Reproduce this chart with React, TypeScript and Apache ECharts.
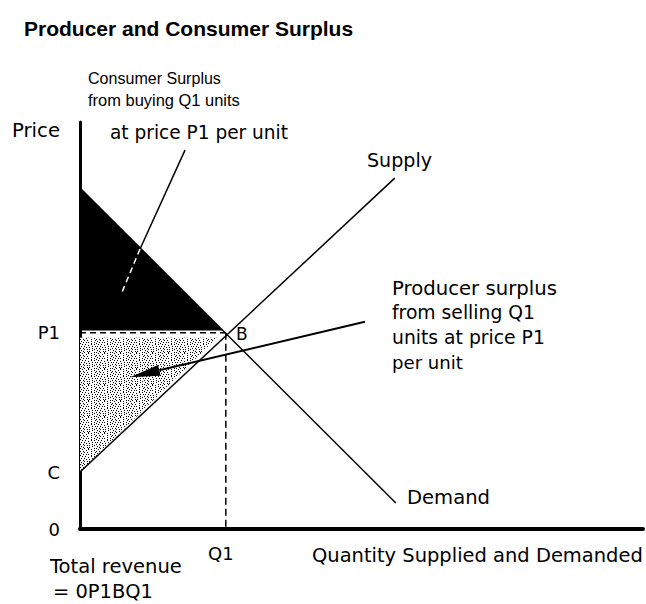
import { useEffect, useRef } from "react";
import * as echarts from "echarts";

// ---- Data (chart units: 0..100 on both axes) ----
const demandPoints: number[][] = [[0, 83.8], [56.1, 6.4]];
const supplyPoints: number[][] = [[0, 14.0], [55.9, 86.2]];
const Q1 = 25.9;
const P1 = 48.2;
const consumerSurplusArea: number[][] = [[0, 83.8], [0, P1 + 0.6], [Q1 - 0.6, P1 + 0.6]];
const producerSurplusArea: number[][] = [[0, P1 - 1.2], [Q1 - 1.6, P1 - 1.2], [0, 14.0]];
const priceDashed: number[][] = [[0, P1], [Q1, P1]];
const quantityDashed: number[][] = [[Q1, P1], [Q1, 0]];
const yTickValues = [P1, 14.0, 0];
const yTickLabels = ["P1", "C", "0"];
const xTickValues = [Q1];
const xTickLabels = ["Q1"];
const consumerPointerOuter: number[][] = [[18.65, 93.1], [10.66, 68.8]];
const consumerPointerInner: number[][] = [[10.66, 68.8], [7.46, 58.2]];
const producerPointer: number[][] = [[50.6, 50.9], [8.9, 37.3]];

const FONT = "'DejaVu Sans', 'Liberation Sans', sans-serif";
const NARROW_FONT = "'Liberation Sans', Arial, sans-serif";

const stippleRows = [
  "#...#...#.....#.",
  "..#.....#..#....",
  "......#.......#.",
  "#..#.......#....",
  "....#..#.......#",
  ".#.........#....",
  "...#..#.#.....#.",
  "#..........#....",
  "..#..#.....#..#.",
  "........#.......",
  ".#..#.......#..#",
  "......#..#......",
  "#..#........#...",
  "....#..#.#....#.",
  ".#..........#...",
  "...#...#.#......",
];

function makeStipple(): any {
  const n = stippleRows.length;
  const c = document.createElement("canvas");
  c.width = n;
  c.height = n;
  const ctx = c.getContext("2d")!;
  ctx.fillStyle = "#ffffff";
  ctx.fillRect(0, 0, n, n);
  ctx.fillStyle = "#000000";
  stippleRows.forEach((row, y) => {
    for (let x = 0; x < row.length; x++) {
      if (row[x] === "#") ctx.fillRect(x, y, 1, 1);
    }
  });
  return { image: c, repeat: "repeat" };
}

let measureCtx: CanvasRenderingContext2D | null = null;
function fitSize(text: string, family: string, weight: string, targetWidth: number, fallback: number): number {
  try {
    if (!measureCtx) measureCtx = document.createElement("canvas").getContext("2d");
    if (!measureCtx) return fallback;
    measureCtx.font = `${weight} 100px ${family}`;
    const w = measureCtx.measureText(text).width;
    if (!w) return fallback;
    return (100 * targetWidth) / w;
  } catch (e) {
    return fallback;
  }
}

export default function App() {
  const ref = useRef<HTMLDivElement>(null);
  useEffect(() => {
    if (!ref.current) return;
    const chart = echarts.init(ref.current, undefined, { renderer: "svg" });
    let stipple: any = "#b0b0b0";
    try {
      stipple = makeStipple();
    } catch (e) {
      stipple = "#b0b0b0";
    }
    const polygonSeries = (pts: number[][], fill: any) => ({
      type: "custom",
      coordinateSystem: "cartesian2d",
      silent: true,
      clip: false,
      data: [pts[0]],
      renderItem: (_p: any, api: any) => ({
        type: "polygon",
        shape: { points: pts.map((p) => api.coord(p)) },
        style: { fill, stroke: "none" },
      }),
    });
    const lineSeries = (pts: number[][], color: string, width: number, type: any = "solid") => ({
      type: "line",
      data: pts,
      symbol: "none",
      silent: true,
      lineStyle: { color, width, type },
      z: 5,
    });
    const arrowSeries = {
      type: "custom",
      coordinateSystem: "cartesian2d",
      silent: true,
      clip: false,
      z: 6,
      data: [producerPointer[0]],
      renderItem: (_p: any, api: any) => {
        const a = api.coord(producerPointer[0]);
        const b = api.coord(producerPointer[1]);
        const dx = b[0] - a[0];
        const dy = b[1] - a[1];
        const len = Math.sqrt(dx * dx + dy * dy);
        const ux = dx / len;
        const uy = dy / len;
        const L = 30;
        const W = 5.5;
        const bx = b[0] - ux * L;
        const by = b[1] - uy * L;
        return {
          type: "group",
          children: [
            {
              type: "line",
              shape: { x1: a[0], y1: a[1], x2: bx, y2: by },
              style: { stroke: "#000", lineWidth: 2 },
            },
            {
              type: "polygon",
              shape: {
                points: [
                  [b[0], b[1]],
                  [bx - uy * W, by + ux * W],
                  [bx + uy * W, by - ux * W],
                ],
              },
              style: { fill: "#000" },
            },
          ],
        };
      },
    };
    const tickScatter = (vals: number[][], labels: string[], position: string, distance: number, offset: number[]) => ({
      type: "scatter",
      symbolSize: 0,
      silent: true,
      z: 7,
      itemStyle: { opacity: 1, color: "#000" },
      data: vals.map((v, i) => ({ value: v, name: labels[i] })),
      label: {
        show: true,
        position,
        distance,
        offset,
        formatter: (p: any) => p.name,
        color: "#000",
        opacity: 1,
        fontSize: 18,
        fontFamily: FONT,
      },
    });
    const txt = (text: string, x: number, y: number, width: number, family = FONT, weight = "normal") => {
      const size = fitSize(text, family, weight, width, 17);
      return {
        type: "text",
        x,
        y,
        style: {
          text,
          fill: "#000",
          font: `${weight} ${size.toFixed(2)}px ${family}`,
          align: "left",
          verticalAlign: "middle",
        },
      };
    };

    chart.setOption({
      animation: false,
      backgroundColor: "#ffffff",
      grid: { left: 80, right: 3, top: 122, bottom: 75 },
      xAxis: {
        type: "value",
        min: 0,
        max: 100,
        axisLine: { show: true, lineStyle: { color: "#000", width: 4 } },
        axisTick: { show: false },
        axisLabel: { show: false },
        splitLine: { show: false },
      },
      yAxis: {
        type: "value",
        min: 0,
        max: 100,
        axisLine: { show: true, lineStyle: { color: "#000", width: 3 } },
        axisTick: { show: false },
        axisLabel: { show: false },
        splitLine: { show: false },
      },
      graphic: [
        txt("Producer and Consumer Surplus", 24, 28, 329, NARROW_FONT, "bold"),
        txt("Consumer Surplus", 88, 78, 133, NARROW_FONT),
        txt("from buying Q1 units", 88, 100, 152, NARROW_FONT),
        txt("at price P1 per unit", 110, 132, 178),
        txt("Price", 12, 130, 48),
        txt("Supply", 367, 160, 65),
        txt("Producer surplus", 392, 288, 165),
        txt("from selling Q1", 392, 312, 143),
        txt("units at price P1", 392, 337, 153),
        txt("per unit", 392, 362, 71),
        txt("Demand", 407, 497, 83),
        txt("Quantity Supplied and Demanded", 312, 555, 331),
        txt("Total revenue", 50, 566, 132),
        txt("= 0P1BQ1", 53, 591, 100),
        {
          type: "text",
          x: 236,
          y: 334,
          style: { text: "B", fill: "#000", font: `normal 17px ${FONT}`, align: "left", verticalAlign: "middle" },
        },
      ],
      series: [
        polygonSeries(consumerSurplusArea, "#000000"),
        polygonSeries(producerSurplusArea, stipple),
        lineSeries(demandPoints, "#000", 1.5),
        lineSeries(supplyPoints, "#000", 1.5),
        lineSeries(priceDashed, "#000", 1.5, [6, 4]),
        lineSeries(quantityDashed, "#000", 1.5, [7, 4]),
        lineSeries(consumerPointerOuter, "#000", 1.5),
        lineSeries(consumerPointerInner, "#fff", 1.5, [6, 4]),
        arrowSeries,
        tickScatter(yTickValues.map((v) => [0, v]), yTickLabels, "left", 20, [0, 0]),
        tickScatter(xTickValues.map((v) => [v, 0]), xTickLabels, "bottom", 15, [-5, 0]),
      ],
    });
    return () => chart.dispose();
  }, []);
  return (
    <div
      ref={ref}
      style={{ position: "absolute", left: 0, top: 0, width: 646, height: 604, background: "#fff" }}
    />
  );
}
